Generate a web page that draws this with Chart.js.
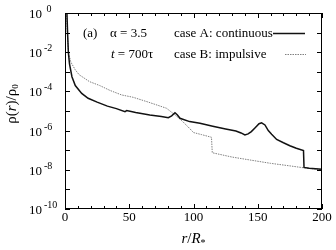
<!DOCTYPE html>
<html>
<head>
<meta charset="utf-8">
<script src="https://cdn.jsdelivr.net/npm/chart.js@4.4.0/dist/chart.umd.min.js"></script>
<style>
  html, body { margin: 0; padding: 0; background: #fff; }
</style>
</head>
<body>
<canvas id="density-chart" width="336" height="250"></canvas>
<script>
// r / R* and log10(rho/rho0)
const radiusA = [1.5, 2, 2.6, 3.5, 5.4, 8, 13, 18, 25, 33, 40, 46.7, 48, 55, 66, 75, 80.4, 83, 85.6, 87.5, 89.5, 97, 105, 115, 125, 133, 137, 140, 142.5, 145, 148, 151, 153, 155.6, 158.2, 160.8, 164.7, 170, 175, 180, 185.6, 186, 190, 200];
const logRhoA = [0, -1.0, -2.0, -2.6, -3.25, -3.7, -4.1, -4.35, -4.55, -4.75, -4.88, -5.03, -4.98, -5.08, -5.2, -5.28, -5.34, -5.25, -5.09, -5.2, -5.37, -5.54, -5.63, -5.78, -5.92, -6.02, -6.12, -6.22, -6.17, -6.05, -5.85, -5.65, -5.6, -5.71, -6.0, -6.19, -6.45, -6.62, -6.77, -6.9, -7.02, -7.88, -7.92, -7.97];

const radiusB = [1.2, 1.8, 2.9, 4.5, 8, 11, 14, 19, 27, 35, 44, 53, 65, 79, 85.6, 91, 97, 100, 106, 114, 114.6, 130, 144, 160, 175, 186, 200];
const logRhoB = [0, -1.1, -2.06, -2.5, -2.9, -3.15, -3.28, -3.5, -3.7, -3.95, -4.18, -4.3, -4.55, -4.86, -5.2, -5.5, -5.89, -6.1, -6.2, -6.34, -7.13, -7.35, -7.5, -7.67, -7.8, -7.9, -8.0];

const xTickLabels = [0, 50, 100, 150, 200];
const yTickExponents = [0, -2, -4, -6, -8, -10];

const SERIF = '"Liberation Serif", "Times New Roman", serif';

function toPoints(xs, ys) {
    return xs.map((x, i) => ({ x: x, y: ys[i] }));
}

// draw a row of text pieces with their own fonts and vertical offsets
function drawRuns(ctx, runs, x, y, align) {
    let total = 0;
    runs.forEach(r => { ctx.font = r[1]; total += ctx.measureText(r[0]).width; });
    let cx = align === 'center' ? x - total / 2 : x;
    runs.forEach(r => {
        ctx.font = r[1];
        ctx.fillText(r[0], cx, y + (r[2] || 0));
        cx += ctx.measureText(r[0]).width;
    });
}

const decorPlugin = {
    id: 'decor',
    afterDraw(chart) {
        const ctx = chart.ctx;
        const area = chart.chartArea;
        const xs = chart.scales.x;
        const ys = chart.scales.y;

        ctx.save();
        ctx.strokeStyle = '#000';
        ctx.fillStyle = '#000';
        ctx.lineWidth = 1;

        // frame
        ctx.strokeRect(Math.round(area.left) + 0.5, Math.round(area.top) + 0.5,
            Math.round(area.right - area.left) - 1, Math.round(area.bottom - area.top) - 1);

        // inward ticks
        ctx.beginPath();
        for (let v = 0; v <= 200; v += 10) {
            const px = Math.round(xs.getPixelForValue(v)) + 0.5;
            const len = v % 50 === 0 ? 5 : 3;
            ctx.moveTo(px, area.bottom); ctx.lineTo(px, area.bottom - len);
            ctx.moveTo(px, area.top); ctx.lineTo(px, area.top + len);
        }
        for (let e = -10; e <= 0; e++) {
            const py = Math.round(ys.getPixelForValue(e)) + 0.5;
            ctx.moveTo(area.left, py); ctx.lineTo(area.left + 5, py);
            ctx.moveTo(area.right, py); ctx.lineTo(area.right - 5, py);
        }
        ctx.stroke();

        // tick labels
        ctx.textBaseline = 'alphabetic';
        ctx.textAlign = 'center';
        ctx.font = '13px ' + SERIF;
        xTickLabels.forEach(v => {
            ctx.fillText(String(v), xs.getPixelForValue(v), area.bottom + 12);
        });
        ctx.textAlign = 'left';
        yTickExponents.forEach(e => {
            const py = ys.getPixelForValue(e);
            ctx.font = '13px ' + SERIF;
            ctx.fillText('10', 29, py + 5);
            ctx.font = '10px ' + SERIF;
            ctx.fillText(e === 0 ? ' 0' : String(e), 44, py - 1);
        });

        // axis titles
        drawRuns(ctx, [
            ['r', 'italic 15px ' + SERIF],
            ['/', '15px ' + SERIF],
            ['R', 'italic 15px ' + SERIF],
            ['*', '10px ' + SERIF, 3]
        ], (area.left + area.right) / 2, 243, 'center');

        ctx.save();
        ctx.translate(16, 104);
        ctx.rotate(-Math.PI / 2);
        drawRuns(ctx, [
            ['ρ(', '15px ' + SERIF],
            ['r', 'italic 15px ' + SERIF],
            [')/ρ', '15px ' + SERIF],
            ['0', '9px ' + SERIF, 2]
        ], 0, 0, 'center');
        ctx.restore();

        // annotations and key
        ctx.font = '13px ' + SERIF;
        ctx.fillText('(a)', 83, 37);
        drawRuns(ctx, [['α = 3.5', '13px ' + SERIF]], 110, 37);
        drawRuns(ctx, [['t', 'italic 13px ' + SERIF], [' = 700τ', '13px ' + SERIF]], 111, 58);
        ctx.fillText('case A: continuous', 174, 37);
        ctx.fillText('case B: impulsive', 174, 58);

        ctx.beginPath();
        ctx.lineWidth = 1.5;
        ctx.strokeStyle = '#111';
        ctx.moveTo(273, 33.5); ctx.lineTo(305, 33.5);
        ctx.stroke();

        ctx.beginPath();
        ctx.lineWidth = 1;
        ctx.strokeStyle = '#808080';
        ctx.setLineDash([1.5, 1]);
        ctx.moveTo(285, 54.5); ctx.lineTo(306, 54.5);
        ctx.stroke();

        ctx.restore();
    }
};

new Chart(document.getElementById('density-chart'), {
    type: 'line',
    data: {
        datasets: [
            {
                label: 'case A: continuous',
                data: toPoints(radiusA, logRhoA),
                borderColor: '#111',
                borderWidth: 1.5,
                pointRadius: 0,
                tension: 0,
                fill: false,
            },
            {
                label: 'case B: impulsive',
                data: toPoints(radiusB, logRhoB),
                borderColor: '#808080',
                borderWidth: 1,
                borderDash: [1.5, 1],
                pointRadius: 0,
                tension: 0,
                fill: false,
            },
        ],
    },
    options: {
        responsive: false,
        animation: false,
        devicePixelRatio: 1,
        layout: { padding: { top: 13, right: 14, left: 0, bottom: 0 } },
        plugins: {
            legend: { display: false },
            tooltip: { enabled: false },
        },
        scales: {
            x: {
                type: 'linear', min: 0, max: 200,
                ticks: { display: false },
                grid: { display: false },
                border: { display: false },
                afterFit: s => { s.height = 41; },
            },
            y: {
                type: 'linear', min: -10, max: 0,
                ticks: { display: false },
                grid: { display: false },
                border: { display: false },
                afterFit: s => { s.width = 65; },
            },
        },
    },
    plugins: [decorPlugin],
});
</script>
</body>
</html>
